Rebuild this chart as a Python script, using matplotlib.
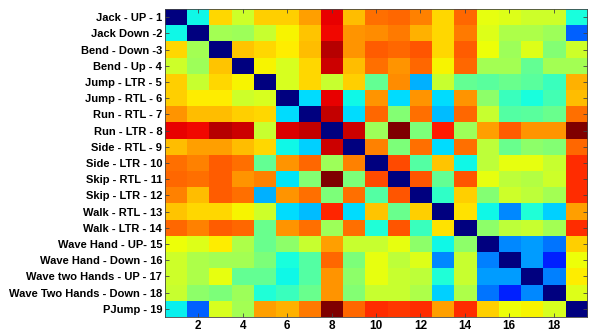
import matplotlib
matplotlib.use("Agg")
import matplotlib.pyplot as plt
import numpy as np

labels = ["Jack - UP - 1", "Jack Down -2", "Bend - Down -3", "Bend - Up - 4",
          "Jump - LTR - 5", "Jump - RTL - 6", "Run - RTL - 7", "Run - LTR - 8",
          "Side - RTL - 9", "Side - LTR - 10", "Skip - RTL - 11", "Skip - LTR - 12",
          "Walk - RTL - 13", "Walk - LTR - 14", "Wave Hand - UP- 15",
          "Wave Hand - Down - 16", "Wave two Hands - UP - 17",
          "Wave Two Hands - Down - 18", "PJump - 19"]

row01 = [0.00, 0.37, 0.68, 0.60, 0.69, 0.69, 0.74, 0.91, 0.71, 0.79, 0.80, 0.77, 0.68, 0.80, 0.63, 0.62, 0.60, 0.60, 0.38]
row02 = [0.37, 0.00, 0.55, 0.54, 0.59, 0.65, 0.70, 0.90, 0.75, 0.76, 0.78, 0.72, 0.68, 0.78, 0.62, 0.56, 0.56, 0.54, 0.22]
row03 = [0.68, 0.55, 0.00, 0.70, 0.68, 0.66, 0.71, 0.95, 0.75, 0.81, 0.80, 0.82, 0.68, 0.81, 0.64, 0.54, 0.62, 0.51, 0.60]
row04 = [0.60, 0.54, 0.70, 0.00, 0.65, 0.61, 0.68, 0.93, 0.71, 0.79, 0.75, 0.80, 0.65, 0.80, 0.55, 0.55, 0.47, 0.55, 0.55]
row05 = [0.69, 0.59, 0.68, 0.65, 0.00, 0.61, 0.68, 0.59, 0.69, 0.47, 0.76, 0.30, 0.59, 0.47, 0.46, 0.48, 0.46, 0.42, 0.72]
row06 = [0.69, 0.66, 0.66, 0.60, 0.61, 0.00, 0.34, 0.91, 0.37, 0.75, 0.34, 0.75, 0.34, 0.75, 0.52, 0.42, 0.38, 0.43, 0.71]
row07 = [0.75, 0.71, 0.71, 0.69, 0.68, 0.34, 0.00, 0.94, 0.34, 0.80, 0.51, 0.79, 0.31, 0.80, 0.59, 0.45, 0.46, 0.48, 0.79]
row08 = [0.91, 0.90, 0.95, 0.93, 0.59, 0.92, 0.94, 0.00, 0.93, 0.54, 1.00, 0.50, 0.88, 0.54, 0.74, 0.81, 0.75, 0.75, 1.00]
row09 = [0.71, 0.74, 0.74, 0.71, 0.68, 0.37, 0.33, 0.93, 0.00, 0.77, 0.50, 0.79, 0.34, 0.79, 0.58, 0.48, 0.52, 0.51, 0.80]
row10 = [0.79, 0.77, 0.81, 0.79, 0.47, 0.75, 0.80, 0.54, 0.77, 0.00, 0.83, 0.45, 0.70, 0.37, 0.58, 0.63, 0.63, 0.59, 0.86]
row11 = [0.80, 0.79, 0.81, 0.75, 0.77, 0.35, 0.51, 1.00, 0.50, 0.83, 0.00, 0.82, 0.47, 0.82, 0.63, 0.58, 0.57, 0.60, 0.86]
row12 = [0.77, 0.71, 0.81, 0.79, 0.30, 0.75, 0.79, 0.50, 0.79, 0.45, 0.82, 0.00, 0.41, 0.69, 0.51, 0.60, 0.58, 0.55, 0.86]
row13 = [0.70, 0.68, 0.68, 0.65, 0.60, 0.34, 0.31, 0.87, 0.34, 0.70, 0.48, 0.69, 0.00, 0.67, 0.37, 0.26, 0.39, 0.33, 0.74]
row14 = [0.80, 0.77, 0.81, 0.80, 0.48, 0.75, 0.79, 0.54, 0.79, 0.39, 0.82, 0.42, 0.67, 0.00, 0.52, 0.58, 0.59, 0.55, 0.86]
row15 = [0.64, 0.62, 0.66, 0.56, 0.48, 0.52, 0.59, 0.74, 0.59, 0.59, 0.63, 0.52, 0.37, 0.52, 0.00, 0.26, 0.28, 0.24, 0.69]
row16 = [0.60, 0.56, 0.55, 0.55, 0.50, 0.38, 0.45, 0.80, 0.50, 0.63, 0.58, 0.62, 0.26, 0.59, 0.25, 0.00, 0.28, 0.16, 0.64]
row17 = [0.60, 0.56, 0.63, 0.47, 0.47, 0.37, 0.45, 0.75, 0.52, 0.63, 0.59, 0.58, 0.39, 0.59, 0.28, 0.28, 0.00, 0.25, 0.66]
row18 = [0.59, 0.52, 0.50, 0.54, 0.39, 0.42, 0.48, 0.75, 0.51, 0.59, 0.59, 0.56, 0.33, 0.56, 0.24, 0.16, 0.26, 0.00, 0.62]
row19 = [0.36, 0.22, 0.61, 0.55, 0.74, 0.72, 0.78, 1.00, 0.80, 0.86, 0.85, 0.86, 0.74, 0.86, 0.69, 0.64, 0.65, 0.61, 0.00]

matrix = np.array([row01, row02, row03, row04, row05, row06, row07, row08, row09, row10,
                   row11, row12, row13, row14, row15, row16, row17, row18, row19])

xtick_vals = [2, 4, 6, 8, 10, 12, 14, 16, 18]

plt.rcParams['font.family'] = ['Liberation Sans', 'DejaVu Sans']

fig = plt.figure(figsize=(5.89, 3.34), dpi=100)
ax = fig.add_axes([0.280, 0.051, 0.7166, 0.922])
n = len(labels)
ax.imshow(matrix, cmap='jet', vmin=0, vmax=1, aspect='auto',
          interpolation='nearest', extent=(0.5, n + 0.5, n + 0.5, 0.5))
ax.set_xlim(0.5, n + 0.5)
ax.set_ylim(n + 0.5, 0.5)
ax.set_yticks(np.arange(1, n + 1))
ax.set_yticklabels(labels, fontsize=8, fontweight='bold')
ax.set_xticks(xtick_vals)
ax.set_xticklabels([str(v) for v in xtick_vals], fontsize=8.5, fontweight='bold')
ax.tick_params(axis='both', direction='in', length=3, width=0.6, color='#444444',
               top=True, right=True, pad=2)
for s in ax.spines.values():
    s.set_linewidth(0.6)
    s.set_color('#444444')

fig.savefig("out.png", dpi=100)
